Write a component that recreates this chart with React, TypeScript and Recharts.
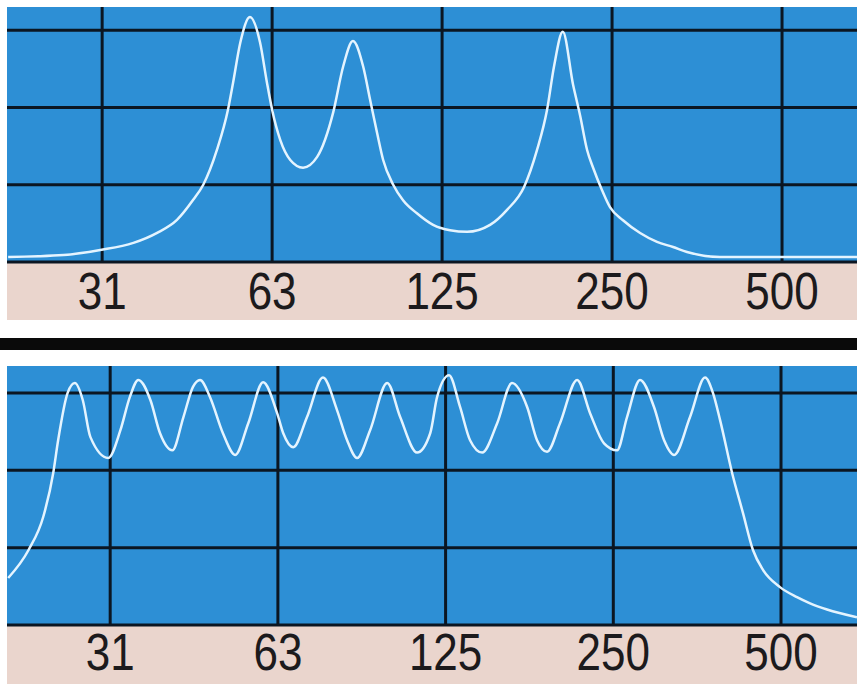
import React from "react";
import { LineChart, Line, XAxis, YAxis, CartesianGrid } from "recharts";

// octave band centres on the log frequency axis
const octaveTicks = [31.25, 62.5, 125, 250, 500];
const octaveLabels = ["31", "63", "125", "250", "500"];
const levelTicks = [10, 20, 30];

// upper trace: three resonances
const topFreq = [21.3, 26.7, 31.0, 35.5, 39.1, 42.4, 45.3, 47.2, 49.9, 52.2, 53.3, 54.9, 57.1, 59.5, 61.2, 62.5, 64.6, 67.3, 70.9, 75.1, 80.2, 83.5, 86.9, 90.6, 93.2, 95.9, 98.3, 102.4, 106.6, 112.8, 120.5, 129.1, 138.4, 152.0, 162.9, 174.6, 184.1, 191.8, 197.3, 204.5, 213.3, 219.4, 225.8, 231.4, 240.0, 247.9, 261.4, 280.3, 300.3, 320.6, 339.4, 388.2, 678.8];
const topLevel = [0.65, 0.9, 1.56, 2.47, 3.77, 5.45, 8.05, 10, 14.5, 19.7, 23.2, 28.4, 31.7, 28.4, 23.2, 19.7, 15.8, 13.2, 12.2, 13.6, 19.4, 25.3, 28.6, 25.3, 21.0, 16.7, 13.2, 10.0, 8.0, 6.3, 4.8, 4.1, 3.9, 4.8, 6.75, 9.7, 14.5, 19.7, 25.3, 29.8, 22.9, 19.0, 14.5, 12.2, 9.3, 7.1, 5.4, 3.75, 2.6, 1.94, 1.3, 0.65, 0.65];

// lower trace: ripple band
const bottomFreq = [20.5, 22.3, 23.7, 24.7, 25.2, 26.2, 27.0, 27.9, 28.8, 31.0, 32.6, 33.9, 35.1, 36.9, 38.4, 40.4, 42.3, 44.0, 45.3, 47.2, 49.8, 52.4, 55.3, 58.8, 62.3, 63.9, 66.6, 70.5, 75.3, 79.8, 83.2, 86.7, 91.5, 98.2, 103.6, 111.1, 117.3, 120.7, 126.8, 132.7, 138.3, 145.4, 154.7, 164.5, 175.1, 182.4, 190.1, 200.6, 215.3, 227.1, 240.6, 253.9, 264.6, 279.2, 295.8, 308.4, 321.4, 343.3, 365.3, 377.5, 388.7, 408.4, 427.2, 445.3, 464.4, 497.9, 534.1, 563.8, 604.7, 684.4];
const bottomLevel = [6.08, 9.7, 14.0, 19.7, 23.9, 30.0, 31.3, 29.1, 24.3, 21.6, 25.2, 29.5, 31.7, 29.1, 24.8, 22.6, 26.9, 30.8, 31.7, 29.5, 24.8, 22.0, 26.1, 31.4, 27.4, 24.8, 23.0, 26.9, 32.0, 27.8, 23.9, 21.6, 25.2, 31.3, 26.9, 22.3, 24.8, 29.5, 32.3, 28.2, 23.9, 22.3, 26.1, 31.3, 28.2, 23.9, 22.4, 26.1, 31.7, 27.4, 23.5, 22.6, 26.9, 31.7, 28.2, 23.9, 22.0, 26.9, 32.0, 30.0, 26.5, 19.7, 14.5, 9.7, 7.1, 4.9, 3.6, 2.8, 2.0, 1.0];

const BLUE = "#2d8fd5";
const GRID = "#0b1622";
const BAND = "#ead5cd";

function makeTick(offset: number) {
  return function OctaveTick(props: any) {
    const { x, y, payload } = props;
    const i = octaveTicks.indexOf(payload.value);
    return (
      <g transform={`translate(${x},${y + offset}) scale(1,1.16)`}>
        <text
          x={0}
          y={0}
          textAnchor="middle"
          dominantBaseline="central"
          fontFamily="'Liberation Sans', Arial, sans-serif"
          fontSize={44}
          fill="#1c1a1c"
        >
          {octaveLabels[i]}
        </text>
      </g>
    );
  };
}

type PanelProps = {
  freq: number[];
  level: number[];
  domainX: [number, number];
  maxY: number;
  height: number;
  axisHeight: number;
  labelOffset: number;
};

function Panel({ freq, level, domainX, maxY, height, axisHeight, labelOffset }: PanelProps) {
  const data = freq.map((f, i) => ({ f, v: level[i] }));
  return (
    <LineChart width={857} height={height} data={data} margin={{ top: 7, right: 0, bottom: 0, left: 7 }}>
      <CartesianGrid
        fill={BLUE}
        fillOpacity={1}
        stroke={GRID}
        strokeWidth={3}
        strokeOpacity={1}
        horizontalValues={levelTicks}
        verticalValues={octaveTicks}
      />
      <XAxis
        dataKey="f"
        type="number"
        scale="log"
        domain={domainX}
        allowDataOverflow
        ticks={octaveTicks}
        interval={0}
        height={axisHeight}
        tickLine={false}
        axisLine={{ stroke: GRID, strokeWidth: 3 }}
        tick={makeTick(labelOffset)}
      />
      <YAxis type="number" domain={[0, maxY]} ticks={levelTicks} hide width={0} allowDataOverflow />
      <Line
        type="monotone"
        dataKey="v"
        stroke="#e4f4ff"
        strokeWidth={2.5}
        dot={false}
        isAnimationActive={false}
      />
    </LineChart>
  );
}

export default function App() {
  return (
    <div style={{ position: "fixed", left: 0, top: 0, width: 857, height: 684, background: "#fff", overflow: "hidden" }}>
      <div style={{ position: "absolute", left: 7, top: 262, width: 850, height: 58, background: BAND }} />
      <div style={{ position: "absolute", left: 0, top: 338, width: 857, height: 12, background: "#0a0a0a" }} />
      <div style={{ position: "absolute", left: 7, top: 625, width: 850, height: 59, background: BAND }} />
      <div style={{ position: "absolute", left: 0, top: 0 }}>
        <Panel freq={topFreq} level={topLevel} domainX={[21.2, 678.8]} maxY={33} height={320} axisHeight={58} labelOffset={21} />
      </div>
      <div style={{ position: "absolute", left: 0, top: 359 }}>
        <Panel freq={bottomFreq} level={bottomLevel} domainX={[20.4, 684.5]} maxY={33.5} height={325} axisHeight={59} labelOffset={19} />
      </div>
    </div>
  );
}
